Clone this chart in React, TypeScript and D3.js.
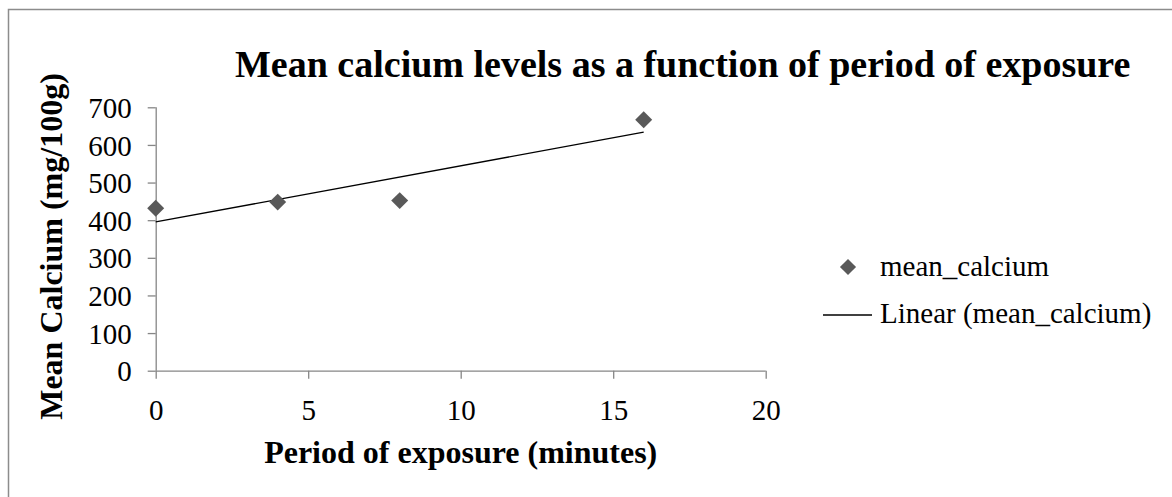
import React, { useEffect, useRef } from "react";
import * as d3 from "d3";

// period of exposure (minutes) and mean calcium (mg/100g)
const exposureMinutes = [0, 4, 8, 16];
const meanCalcium = [432, 448, 452, 667];
const xTicks = [0, 5, 10, 15, 20];
const yTicks = [0, 100, 200, 300, 400, 500, 600, 700];

const title = "Mean calcium levels as a function of period of exposure";
const xLabel = "Period of exposure (minutes)";
const yLabel = "Mean Calcium (mg/100g)";
const seriesName = "mean_calcium";

const FONT = "'Liberation Serif', 'Times New Roman', serif";
const POINT = "#595959";
const AXIS = "#868686";

const App: React.FC = () => {
  const ref = useRef<SVGSVGElement>(null);

  useEffect(() => {
    const svg = d3.select(ref.current);
    svg.selectAll("*").remove();

    const width = 1172;
    const height = 497;
    const margin = { top: 107.3, right: 406.3, bottom: 126.3, left: 155.7 };
    const innerW = width - margin.left - margin.right;
    const innerH = height - margin.top - margin.bottom;

    // outer chart frame (runs off the right and bottom of the picture)
    svg
      .append("rect")
      .attr("x", 8.5)
      .attr("y", 9.5)
      .attr("width", 1200)
      .attr("height", 520)
      .attr("fill", "#fff")
      .attr("stroke", "#8c8c8c")
      .attr("stroke-width", 1.5);

    const g = svg
      .append("g")
      .attr("transform", `translate(${margin.left},${margin.top})`);

    const x = d3.scaleLinear().domain([0, 20]).range([0, innerW]);
    const y = d3.scaleLinear().domain([0, 700]).range([innerH, 0]);

    const yAxis = g
      .append("g")
      .call(d3.axisLeft(y).tickValues(yTicks).tickSize(8).tickPadding(16));
    const xAxis = g
      .append("g")
      .attr("transform", `translate(0,${innerH})`)
      .call(d3.axisBottom(x).tickValues(xTicks).tickSize(8).tickPadding(21));

    [xAxis, yAxis].forEach((ax) => {
      ax.attr("font-family", null).attr("font-size", null);
      ax.select(".domain").attr("stroke", AXIS).attr("stroke-width", 1.3);
      ax.selectAll(".tick line").attr("stroke", AXIS).attr("stroke-width", 1.3);
      ax.selectAll(".tick text")
        .attr("fill", "#000")
        .style("font-family", FONT)
        .style("font-size", "29px");
    });
    yAxis.select(".domain").attr("d", `M0.5,0V${innerH}`);
    xAxis.select(".domain").attr("d", `M0,0.5H${innerW}`);
    yAxis.selectAll(".tick text").attr("dy", "0.35em");

    // linear trend line (least squares)
    const mx = d3.mean(exposureMinutes)!;
    const my = d3.mean(meanCalcium)!;
    const sxy = d3.sum(exposureMinutes, (v, i) => (v - mx) * (meanCalcium[i] - my));
    const sxx = d3.sum(exposureMinutes, (v) => (v - mx) ** 2);
    const slope = sxy / sxx;
    const intercept = my - slope * mx;
    const xMin = d3.min(exposureMinutes)!;
    const xMax = d3.max(exposureMinutes)!;

    g.append("line")
      .attr("x1", x(xMin))
      .attr("y1", y(intercept + slope * xMin))
      .attr("x2", x(xMax))
      .attr("y2", y(intercept + slope * xMax))
      .attr("stroke", "#000")
      .attr("stroke-width", 1.3);

    const diamond = d3.symbol().type(d3.symbolSquare).size(144);
    g.selectAll(".pt")
      .data(exposureMinutes)
      .enter()
      .append("path")
      .attr("class", "pt")
      .attr("d", diamond)
      .attr(
        "transform",
        (d, i) => `translate(${x(d)},${y(meanCalcium[i])}) rotate(45)`
      )
      .attr("fill", POINT);

    // titles
    svg
      .append("text")
      .attr("x", 235)
      .attr("y", 77)
      .style("font-family", FONT)
      .style("font-size", "38px")
      .style("font-weight", "bold")
      .text(title);

    svg
      .append("text")
      .attr("x", margin.left + innerW / 2)
      .attr("y", 463)
      .attr("text-anchor", "middle")
      .style("font-family", FONT)
      .style("font-size", "32px")
      .style("font-weight", "bold")
      .text(xLabel);

    svg
      .append("text")
      .attr("transform", `translate(62,246.5) rotate(-90)`)
      .attr("text-anchor", "middle")
      .style("font-family", FONT)
      .style("font-size", "32px")
      .style("font-weight", "bold")
      .text(yLabel);

    // legend
    const legend = svg.append("g");
    legend
      .append("path")
      .attr("d", d3.symbol().type(d3.symbolSquare).size(130))
      .attr("transform", "translate(848,267) rotate(45)")
      .attr("fill", POINT);
    legend
      .append("text")
      .attr("x", 880)
      .attr("y", 276)
      .style("font-family", FONT)
      .style("font-size", "29px")
      .text(seriesName);
    legend
      .append("line")
      .attr("x1", 823)
      .attr("x2", 872)
      .attr("y1", 315)
      .attr("y2", 315)
      .attr("stroke", "#000")
      .attr("stroke-width", 1.3);
    legend
      .append("text")
      .attr("x", 880)
      .attr("y", 323)
      .style("font-family", FONT)
      .style("font-size", "29px")
      .text(`Linear (${seriesName})`);
  }, []);

  return (
    <svg
      ref={ref}
      width={1172}
      height={497}
      style={{ position: "absolute", left: 0, top: 0 }}
    />
  );
};

export default App;
